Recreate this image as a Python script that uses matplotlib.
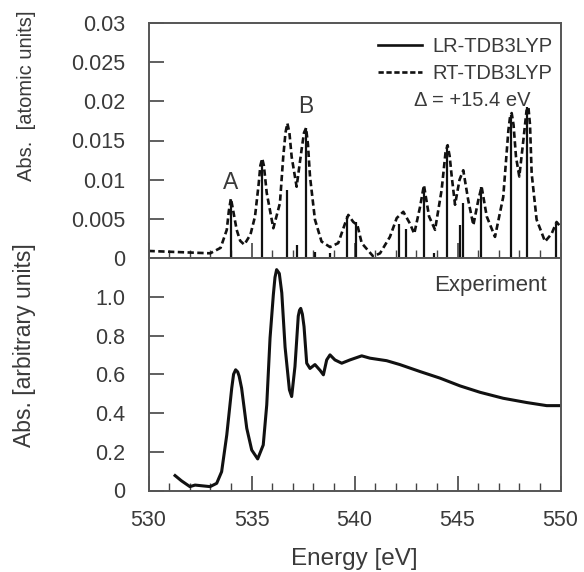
import matplotlib
matplotlib.use("Agg")
import matplotlib.pyplot as plt
from matplotlib.lines import Line2D
from matplotlib.ticker import MultipleLocator

plt.rcParams['font.family'] = ['Liberation Sans', 'DejaVu Sans']

# ---- data ----
stick_e = [534.0, 535.5, 536.72, 537.22, 537.64, 538.1, 538.8, 539.62, 540.08,
           542.15, 542.48, 543.36, 543.87, 544.49, 545.13, 545.29, 546.16,
           547.58, 548.36, 549.8]
stick_v = [0.0074, 0.0125, 0.0087, 0.0017, 0.0166, 0.0008, 0.0006, 0.0053, 0.0046,
           0.0044, 0.0037, 0.0091, 0.0006, 0.0144, 0.0042, 0.0070, 0.0091,
           0.0182, 0.0193, 0.0044]

rt_e = [530.0, 531.0, 532.0, 533.0, 533.5, 533.8, 533.9, 534.0, 534.1, 534.28, 534.45,
        534.65, 534.95, 535.17, 535.35, 535.43, 535.52, 535.6, 535.74, 536.06, 536.38,
        536.54, 536.65, 536.74, 536.84, 536.95, 537.19, 537.44, 537.55, 537.65, 537.74,
        537.84, 538.08, 538.4, 538.81, 539.21, 539.54, 539.7, 539.94, 540.14,
        540.35, 540.91, 541.24, 541.72, 542.05, 542.37, 542.69, 542.9, 543.18,
        543.37, 543.62, 543.91, 544.23, 544.42, 544.52, 544.62, 544.72, 544.88,
        545.1, 545.28, 545.52, 545.77, 546.01, 546.17, 546.42, 546.82, 547.22,
        547.47, 547.55, 547.63, 547.72, 547.84, 548.0, 548.2, 548.35, 548.44,
        548.52, 548.6, 548.84, 549.25, 549.57, 549.81, 550.0]
rt_v = [0.0009, 0.0008, 0.0007, 0.0006, 0.0013, 0.0036, 0.0060, 0.0076, 0.0062, 0.0036,
        0.0022, 0.0017, 0.0030, 0.0053, 0.0095, 0.0118, 0.0127, 0.0118, 0.0083, 0.0038,
        0.0070, 0.0129, 0.0160, 0.0172, 0.0160, 0.0129, 0.0091, 0.0140, 0.0160, 0.0166,
        0.0145, 0.0104, 0.0049, 0.0021, 0.0014, 0.0019, 0.0044, 0.0055, 0.0046,
        0.0042, 0.0019, 0.0002, 0.0006, 0.0027, 0.0051, 0.0059, 0.0044, 0.0031,
        0.0065, 0.0093, 0.0053, 0.0036, 0.0087, 0.0135, 0.0144, 0.0130, 0.0104,
        0.0068, 0.0100, 0.0112, 0.0074, 0.0042, 0.0074, 0.0091, 0.0053, 0.0027,
        0.0078, 0.0163, 0.0180, 0.0185, 0.0170, 0.0129, 0.0104, 0.0151, 0.0188,
        0.0193, 0.0170, 0.0108, 0.0049, 0.0021, 0.0031, 0.0046, 0.0040]

exp_e = [531.29, 531.6, 532.01, 532.26, 532.99, 533.31, 533.55, 533.8, 534.04, 534.13,
         534.23, 534.33, 534.4, 534.52, 534.77, 535.01, 535.3, 535.57, 535.74, 535.9,
         536.06, 536.14, 536.22, 536.35, 536.47, 536.63, 536.84, 536.95, 537.11,
         537.27, 537.33, 537.39, 537.47, 537.55, 537.68, 537.84, 538.08, 538.33,
         538.49, 538.65, 538.81, 539.05, 539.38, 539.78, 540.35, 540.75, 541.56,
         542.2, 543.18, 544.15, 545.12, 546.09, 547.22, 548.36, 549.33, 550.0]
exp_v = [0.077, 0.05, 0.02, 0.028, 0.02, 0.037, 0.097, 0.287, 0.528, 0.60,
         0.623, 0.612, 0.59, 0.528, 0.321, 0.209, 0.163, 0.235, 0.442, 0.787,
         1.01, 1.10, 1.14, 1.12, 1.02, 0.74, 0.52, 0.485, 0.64,
         0.90, 0.93, 0.94, 0.91, 0.846, 0.657, 0.63, 0.65, 0.62,
         0.597, 0.674, 0.70, 0.674, 0.657, 0.674, 0.695, 0.683, 0.67,
         0.65, 0.614, 0.58, 0.54, 0.507, 0.476, 0.454, 0.438, 0.438]

top_ticks = [0, 0.005, 0.01, 0.015, 0.02, 0.025, 0.03]
top_labels = ['0', '0.005', '0.01', '0.015', '0.02', '0.025', '0.03']
bot_ticks = [0, 0.2, 0.4, 0.6, 0.8, 1.0]
bot_labels = ['0', '0.2', '0.4', '0.6', '0.8', '1.0']
x_ticks = [530, 535, 540, 545, 550]

TXT = '#3a3a3a'
LINE = '#111111'
FS = 15.5

fig = plt.figure(figsize=(5.84, 5.72), dpi=100)
L, R = 148.5 / 584, 560.5 / 584
ax1 = fig.add_axes([L, 1 - 258 / 572, R - L, (258 - 23) / 572])
ax2 = fig.add_axes([L, 1 - 490.5 / 572, R - L, (490.5 - 258) / 572])

for ax in (ax1, ax2):
    ax.set_xlim(530, 550)
    ax.set_xticks(x_ticks)
    ax.xaxis.set_minor_locator(MultipleLocator(1))
    ax.tick_params(axis='both', which='major', direction='in', length=11, width=1.2,
                   colors='#444444', labelcolor=TXT, labelsize=FS)
    ax.tick_params(axis='x', which='major', pad=14)
    ax.tick_params(axis='x', which='minor', direction='in', length=6, width=1.0,
                   colors='#444444')
    ax.tick_params(axis='y', which='major', pad=17)
    for s in ax.spines.values():
        s.set_color('#555555')
        s.set_linewidth(1.4)

# top panel
ax1.vlines(stick_e, 0, stick_v, colors=LINE, lw=1.6)
ax1.plot(rt_e, rt_v, color=LINE, lw=1.9, ls=(0, (2.4, 1.3)))
ax1.set_ylim(0, 0.03)
ax1.set_yticks(top_ticks)
ax1.set_yticklabels(top_labels)
ax1.tick_params(axis='x', labelbottom=False)
ax1.set_ylabel('Abs.  [atomic units]', fontsize=14.5, color=TXT)
ax1.yaxis.set_label_coords(-0.273, 0.69)
ax1.text(534.0, 0.0097, 'A', fontsize=FS + 1, color=TXT, ha='center', va='center')
ax1.text(537.65, 0.0193, 'B', fontsize=FS + 1, color=TXT, ha='center', va='center')

handles = [Line2D([], [], color=LINE, lw=1.9),
           Line2D([], [], color=LINE, lw=1.9, ls=(0, (2.0, 1.0)))]
leg = ax1.legend(handles, ['LR-TDB3LYP', 'RT-TDB3LYP'], loc='upper right',
                 bbox_to_anchor=(1.015, 1.0), frameon=False, fontsize=FS - 1,
                 handlelength=2.2, handletextpad=0.5, labelspacing=0.4,
                 borderaxespad=0.3)
for t in leg.get_texts():
    t.set_color(TXT)
ax1.text(0.785, 0.67, '\u0394 = +15.4 eV', transform=ax1.transAxes, fontsize=FS - 1,
         color=TXT, ha='center', va='center')

# bottom panel
ax2.plot(exp_e, exp_v, color=LINE, lw=2.2)
ax2.set_ylim(0, 1.2)
ax2.set_yticks(bot_ticks)
ax2.set_yticklabels(bot_labels)
ax2.set_ylabel('Abs. [arbitrary units]', fontsize=16.5, color=TXT)
ax2.yaxis.set_label_coords(-0.273, 0.625)
ax2.set_xlabel('Energy [eV]', fontsize=FS + 2, color=TXT, labelpad=12)
ax2.text(0.967, 0.88, 'Experiment', transform=ax2.transAxes, fontsize=FS + 0.5,
         color=TXT, ha='right', va='center')

fig.savefig('out.png', dpi=100)
